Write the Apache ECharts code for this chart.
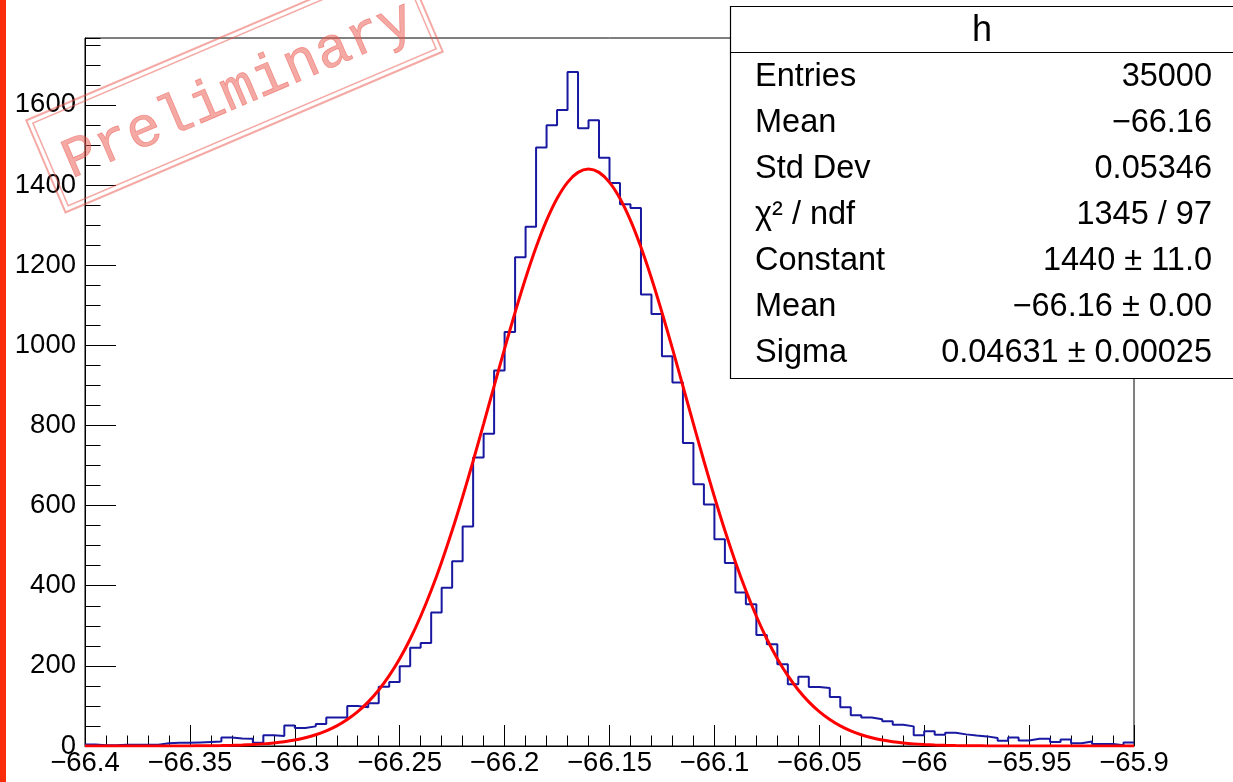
<!DOCTYPE html>
<html><head><meta charset="utf-8">
<script src="https://cdn.jsdelivr.net/npm/echarts@6/dist/echarts.min.js"></script>
<style>html,body{margin:0;padding:0;background:#fff;}#c{width:1233px;height:782px;}</style>
</head><body><div id="c"></div>
<script>
// ---- data ----
const xMin = -66.4;
const xMax = -65.9;
const binWidth = 0.005;
const counts = [
  4, 2, 2, 3, 3, 3, 3, 7, 8, 8,
  9, 10, 11, 21, 19, 18, 8, 27, 25, 51,
  45, 49, 55, 71, 71, 100, 97, 107, 148, 160,
  199, 245, 257, 333, 395, 461, 548, 720, 779, 937,
  1033, 1220, 1296, 1494, 1549, 1587, 1682, 1542, 1562, 1468,
  1405, 1352, 1343, 1127, 1078, 973, 907, 756, 653, 603,
  516, 457, 383, 354, 277, 254, 204, 154, 173, 147,
  145, 122, 97, 77, 71, 67, 62, 53, 49, 27,
  37, 28, 33, 29, 26, 24, 20, 13, 21, 14,
  18, 18, 10, 16, 7, 11, 5, 5, 2, 9
];
// red fit curve, read at every 0.005 from -66.4 to -65.9
const fitStep = 0.005;
const fitValues = [
  0, 0, 0, 0, 0, 0, 0.1, 0.1, 0.1, 0.2,
  0.3, 0.5, 0.8, 1.1, 1.7, 2.5, 3.7, 5.3, 7.6, 10.7,
  14.9, 20.6, 28, 37.7, 50.1, 66, 85.7, 110.1, 139.9, 175.6,
  217.9, 267.1, 323.8, 387.9, 459.4, 537.7, 622.1, 711.3, 804, 898.1,
  991.6, 1082.2, 1167.4, 1244.7, 1311.8, 1366.4, 1406.8, 1431.6, 1440,
  1431.6, 1406.8, 1366.4, 1311.8, 1244.7, 1167.4, 1082.2, 991.6, 898.1, 804,
  711.3, 622.1, 537.7, 459.4, 387.9, 323.8, 267.1, 217.9, 175.6, 139.9,
  110.1, 85.7, 66, 50.1, 37.7, 28, 20.6, 14.9, 10.7, 7.6,
  5.3, 3.7, 2.5, 1.7, 1.1, 0.8, 0.5, 0.3, 0.2, 0.1,
  0.1, 0.1, 0, 0, 0, 0, 0, 0, 0, 0, 0, 0
];
const xTickLabels = ['\u221266.4','\u221266.35','\u221266.3','\u221266.25','\u221266.2','\u221266.15','\u221266.1','\u221266.05','\u221266','\u221265.95','\u221265.9'];
const yTickLabels = ['0','200','400','600','800','1000','1200','1400','1600'];
const yMax = 1767;
const statTitle = 'h';
const statNames = ['Entries','Mean','Std Dev','\u03c7\u00b2 / ndf','Constant','Mean','Sigma'];
const statValues = ['35000','\u221266.16','0.05346','1345 / 97','1440 \u00b1 11.0','\u221266.16 \u00b1 0.00','0.04631 \u00b1 0.00025'];
const stampText = 'Preliminary';

// ---- build ----
const r6 = v => Math.round(v * 1e6) / 1e6;
const histData = counts.map((c, i) => [r6(xMin + i * binWidth), c]);
histData.push([r6(xMin + counts.length * binWidth), counts[counts.length - 1]]);
const fitData = fitValues.map((v, i) => [r6(xMin + i * fitStep), v]);

const FONT = 'Liberation Sans, Arial, Helvetica, sans-serif';
const chart = echarts.init(document.getElementById('c'), null, {renderer: 'canvas'});

const statGraphics = [];
statGraphics.push({type: 'rect', shape: {x: 730.5, y: 6.5, width: 510, height: 372}, style: {fill: '#fff', stroke: '#000', lineWidth: 1.2}, z: 100});
statGraphics.push({type: 'line', shape: {x1: 730.5, y1: 52.5, x2: 1233, y2: 52.5}, style: {stroke: '#000', lineWidth: 1.2}, z: 101});
statGraphics.push({type: 'text', x: 982, y: 31, style: {text: statTitle, fill: '#000', font: '36px ' + FONT, align: 'center', verticalAlign: 'middle'}, z: 102});
statNames.forEach((n, k) => {
  const cy = 76.7 + k * 46.1;
  statGraphics.push({type: 'text', x: 755, y: cy, style: {text: n, fill: '#000', font: '32.5px ' + FONT, align: 'left', verticalAlign: 'middle'}, z: 102});
  statGraphics.push({type: 'text', x: 1212, y: cy, style: {text: statValues[k], fill: '#000', font: '32.5px ' + FONT, align: 'right', verticalAlign: 'middle'}, z: 102});
});

const stampColor = 'rgba(236,84,74,0.5)';
const stamp = {
  type: 'group', x: 234.5, y: 86, rotation: 0.403, z: 120,
  children: [
    {type: 'rect', shape: {x: -205, y: -50, width: 410, height: 100}, style: {fill: 'none', stroke: stampColor, lineWidth: 2}, z: 120},
    {type: 'rect', shape: {x: -200, y: -45, width: 400, height: 90}, style: {fill: 'none', stroke: stampColor, lineWidth: 1.5}, z: 120},
    {type: 'text', x: 2, y: 6, style: {text: stampText, fill: stampColor, font: '57px Liberation Mono, DejaVu Sans Mono, monospace', align: 'center', verticalAlign: 'middle', stroke: stampColor, lineWidth: 0.8}, z: 121}
  ]
};

chart.setOption({
  animation: false,
  backgroundColor: '#fff',
  grid: {left: 85, right: 99, top: 38, bottom: 36, show: true, borderColor: '#000', borderWidth: 1, backgroundColor: 'transparent'},
  xAxis: {
    type: 'value', min: xMin, max: xMax, interval: 0.05,
    axisLine: {lineStyle: {color: '#000', width: 1}},
    axisTick: {inside: true, length: 21, lineStyle: {color: '#000', width: 1}},
    minorTick: {show: true, splitNumber: 5, length: 10.5, lineStyle: {color: '#000', width: 1}},
    splitLine: {show: false},
    axisLabel: {
      color: '#000', fontSize: 27.5, fontFamily: FONT, margin: 3, interval: 0,
      showMinLabel: true, showMaxLabel: true,
      formatter: v => { const k = Math.round((v - xMin) / 0.05); return xTickLabels[k] || ''; }
    }
  },
  yAxis: [{
    type: 'value', min: 0, max: yMax, interval: 200,
    axisLine: {show: true, lineStyle: {color: '#000', width: 1}},
    axisTick: {show: true, inside: true, length: 31, lineStyle: {color: '#000', width: 1}},
    splitLine: {show: false},
    axisLabel: {
      color: '#000', fontSize: 27.5, fontFamily: FONT, margin: 9, showMaxLabel: false,
      formatter: v => { const k = Math.round(v / 200); return (Math.abs(v - k * 200) < 1e-6 && yTickLabels[k]) ? yTickLabels[k] : ''; }
    }
  }, {
    type: 'value', min: 0, max: yMax, interval: 50, position: 'left', offset: 0,
    axisLine: {show: false},
    axisTick: {show: true, inside: true, length: 15.5, lineStyle: {color: '#000', width: 1}},
    splitLine: {show: false},
    axisLabel: {show: false}
  }],
  series: [{
    type: 'line', name: 'h', data: histData, step: 'end', yAxisIndex: 0,
    symbol: 'none', lineStyle: {color: '#1818a0', width: 2}, z: 2, clip: true
  }, {
    type: 'line', name: 'gaus', data: fitData, smooth: 0.3, yAxisIndex: 0,
    symbol: 'none', lineStyle: {color: '#ff0000', width: 3}, z: 3, clip: true
  }],
  graphic: [
    {type: 'rect', shape: {x: 0, y: 0, width: 6, height: 782}, style: {fill: '#fb2c0c'}, z: 50},
    ...statGraphics,
    stamp
  ]
});
</script>
</body></html>
